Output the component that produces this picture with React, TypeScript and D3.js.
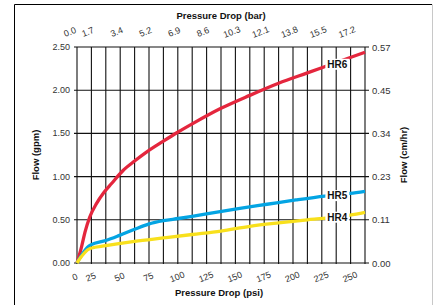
import React, { useEffect, useRef } from 'react';
import * as d3 from 'd3';

// pressure drop (psi) / (bar) tick labels
const psiTicks = [0, 25, 50, 75, 100, 125, 150, 175, 200, 225, 250];
const barTicks = ['0.0', '1.7', '3.4', '5.2', '6.9', '8.6', '10.3', '12.1', '13.8', '15.5', '17.2'];
// flow (gpm) / (cm/hr)
const gpmTicks = [0, 0.5, 1, 1.5, 2, 2.5];
const cmhrTicks = ['0.00', '0.11', '0.23', '0.34', '0.45', '0.57'];

// [psi, gpm]
const hr6: [number, number][] = [
  [0, 0], [4, 0.19], [7, 0.36], [11, 0.53], [17, 0.69], [23, 0.81], [30, 0.92], [40, 1.07],
  [50, 1.18], [60, 1.28], [75, 1.41], [87, 1.51], [100, 1.61], [125, 1.79], [150, 1.94],
  [175, 2.08], [200, 2.2], [225, 2.32], [250, 2.44],
];
const hr5: [number, number][] = [
  [0, 0], [3, 0.07], [6, 0.13], [9, 0.18], [12, 0.21], [25, 0.26], [37, 0.32], [50, 0.39],
  [62, 0.45], [75, 0.49], [88, 0.515], [100, 0.54], [115, 0.575], [140, 0.63], [165, 0.68],
  [190, 0.73], [215, 0.775], [237, 0.805], [250, 0.83],
];
const hr4: [number, number][] = [
  [0, 0], [3, 0.06], [6, 0.11], [9, 0.15], [12, 0.17], [25, 0.2], [50, 0.25], [75, 0.29],
  [100, 0.33], [125, 0.37], [150, 0.425], [175, 0.465], [200, 0.5], [214, 0.517], [237, 0.555], [250, 0.587],
];

const series = [
  { name: 'HR6', data: hr6, color: '#e4263d', labelPsi: 226, labelGpm: 2.3 },
  { name: 'HR5', data: hr5, color: '#03a4e3', labelPsi: 226, labelGpm: 0.78 },
  { name: 'HR4', data: hr4, color: '#f8e01c', labelPsi: 226, labelGpm: 0.53 },
];

const FONT = '"Liberation Sans", Arial, sans-serif';

export default function App() {
  const ref = useRef<SVGSVGElement>(null);

  useEffect(() => {
    const svg = d3.select(ref.current);
    svg.selectAll('*').remove();

    const x = d3.scaleLinear().domain([0, 250]).range([77, 365]);
    const y = d3.scaleLinear().domain([0, 2.5]).range([263, 47]);

    svg.append('rect').attr('width', 436).attr('height', 305).attr('fill', '#fff');

    // outer frame
    svg.append('line').attr('x1', 14.5).attr('y1', 4.5).attr('x2', 432).attr('y2', 4.5).attr('stroke', '#000');
    svg.append('line').attr('x1', 14.5).attr('y1', 4.5).attr('x2', 14.5).attr('y2', 305).attr('stroke', '#000');
    svg.append('line').attr('x1', 432.5).attr('y1', 4.5).attr('x2', 432.5).attr('y2', 305).attr('stroke', '#c8c8c8');

    // grid
    svg.selectAll('vgrid')
      .data(d3.range(0, 250.01, 12.5))
      .enter()
      .append('line')
      .attr('x1', d => x(d)).attr('x2', d => x(d))
      .attr('y1', y(2.5)).attr('y2', y(0) + 1)
      .attr('stroke', '#111').attr('stroke-width', 1.1);

    svg.selectAll('hgrid')
      .data(gpmTicks)
      .enter()
      .append('line')
      .attr('x1', x(0) - 3).attr('x2', x(250) + 4)
      .attr('y1', d => y(d)).attr('y2', d => y(d))
      .attr('stroke', '#111').attr('stroke-width', 1.1);

    // curves
    const line = d3.line<[number, number]>()
      .x(d => x(d[0]))
      .y(d => y(d[1]))
      .curve(d3.curveMonotoneX);

    series.forEach(s => {
      svg.append('path')
        .attr('d', line(s.data))
        .attr('fill', 'none')
        .attr('stroke', s.color)
        .attr('stroke-width', 3.3);
    });

    // series labels
    series.forEach(s => {
      const cx = x(s.labelPsi);
      const cy = y(s.labelGpm);
      svg.append('rect')
        .attr('x', cx - 12).attr('y', cy - 5.5)
        .attr('width', 24).attr('height', 11)
        .attr('fill', '#fff');
      svg.append('text')
        .attr('x', cx).attr('y', cy)
        .attr('text-anchor', 'middle')
        .attr('dominant-baseline', 'central')
        .attr('font-family', FONT).attr('font-weight', 'bold').attr('font-size', 10)
        .attr('fill', '#111')
        .text(s.name);
    });

    // left axis labels
    svg.selectAll('gpmlabels')
      .data(gpmTicks)
      .enter()
      .append('text')
      .attr('x', x(0) - 7)
      .attr('y', d => y(d))
      .attr('text-anchor', 'end')
      .attr('dominant-baseline', 'central')
      .attr('font-family', FONT).attr('font-size', 9)
      .attr('fill', '#333')
      .text(d => d.toFixed(2));

    // right axis labels
    svg.selectAll('cmlabels')
      .data(cmhrTicks)
      .enter()
      .append('text')
      .attr('x', x(250) + 7)
      .attr('y', (d, i) => y(gpmTicks[i]))
      .attr('dominant-baseline', 'central')
      .attr('font-family', FONT).attr('font-size', 9.5)
      .attr('fill', '#333')
      .text(d => d);

    // bottom psi labels
    svg.selectAll('psilabels')
      .data(psiTicks)
      .enter()
      .append('text')
      .attr('transform', d => `translate(${d === 0 ? x(d) - 2 : x(d) - 15} 277) rotate(-22)`)
      .attr('text-anchor', 'middle')
      .attr('dominant-baseline', 'central')
      .attr('font-family', FONT).attr('font-size', 9)
      .attr('fill', '#333')
      .text(d => d);

    // top bar labels
    svg.selectAll('barlabels')
      .data(barTicks)
      .enter()
      .append('text')
      .attr('transform', (d, i) => `translate(${i === 0 ? x(0) - 7 : x(psiTicks[i]) - 18} 32) rotate(-22)`)
      .attr('text-anchor', 'middle')
      .attr('dominant-baseline', 'central')
      .attr('font-family', FONT).attr('font-size', 9)
      .attr('fill', '#333')
      .text(d => d);

    // titles
    const title = (t: string, tx: number, ty: number, rot: number) => {
      svg.append('text')
        .attr('transform', `translate(${tx} ${ty}) rotate(${rot})`)
        .attr('text-anchor', 'middle')
        .attr('dominant-baseline', 'central')
        .attr('font-family', FONT).attr('font-weight', 'bold').attr('font-size', 9.5)
        .attr('fill', '#111')
        .text(t);
    };
    title('Pressure Drop (bar)', 221, 15, 0);
    title('Pressure Drop (psi)', 219, 292.5, 0);
    title('Flow (gpm)', 35, 155, -90);
    title('Flow (cm/hr)', 403, 155, -90);
  }, []);

  return (
    <svg ref={ref} width={436} height={305} style={{ position: 'absolute', left: 0, top: 0 }} />
  );
}
